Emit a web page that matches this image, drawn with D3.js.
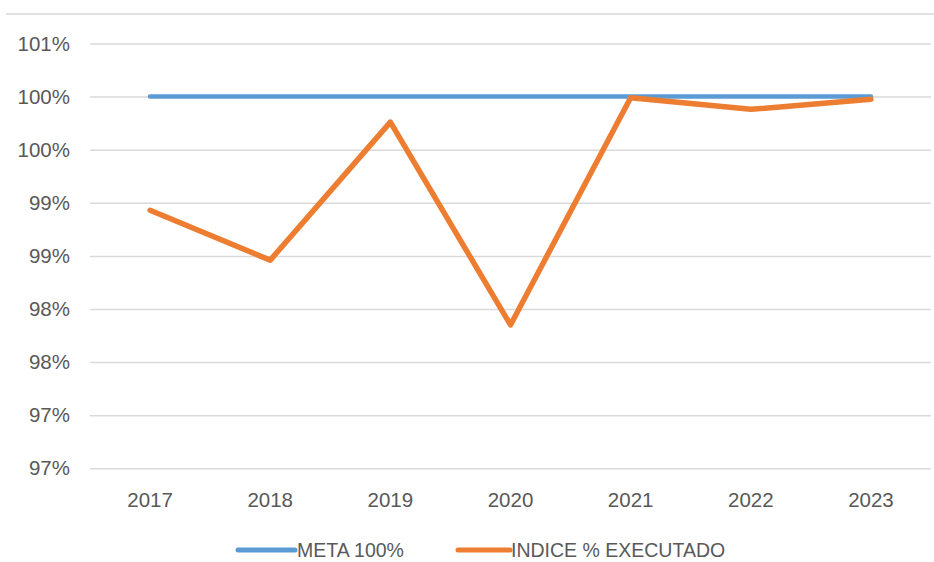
<!DOCTYPE html>
<html>
<head>
<meta charset="utf-8">
<script src="https://cdn.jsdelivr.net/npm/d3@7/dist/d3.min.js"></script>
<style>
  html, body { margin: 0; padding: 0; background: #fff; }
  svg { display: block; font-family: "Liberation Sans", Arial, sans-serif; }
</style>
</head>
<body>
<svg id="chart" width="934" height="562"></svg>
<script>
// Annual execution index against the 100% target
const years = ["2017", "2018", "2019", "2020", "2021", "2022", "2023"];
const metaValues = [100, 100, 100, 100, 100, 100, 100];
const indiceValues = [98.93, 98.46, 99.76, 97.85, 99.99, 99.88, 99.975];
const tickValues = [96.5, 97, 97.5, 98, 98.5, 99, 99.5, 100, 100.5];
const tickLabels = ["97%", "97%", "98%", "98%", "99%", "99%", "100%", "100%", "101%"];
const seriesNames = ["META 100%", "INDICE % EXECUTADO"];
const seriesColors = ["#5B9BD5", "#ED7D31"];

const svg = d3.select("#chart");
const plotLeft = 90, plotRight = 931, plotTop = 43.5, plotBottom = 468.3;

const x = d3.scaleBand().domain(years).range([plotLeft, plotRight]);
const y = d3.scaleLinear().domain([96.5, 100.5]).range([plotBottom, plotTop]);
const cx = d => x(d) + x.bandwidth() / 2;

// outer frame edge
svg.append("line")
  .attr("x1", 6).attr("x2", 934).attr("y1", 14).attr("y2", 14)
  .attr("stroke", "#d9d9d9").attr("stroke-width", 1.5);

// horizontal gridlines + value axis labels
const yAxis = d3.axisLeft(y)
  .tickValues(tickValues)
  .tickSize(-(plotRight - plotLeft))
  .tickPadding(20)
  .tickFormat((d, i) => tickLabels[i]);

const gy = svg.append("g").attr("transform", `translate(${plotLeft},0)`).call(yAxis);
gy.select(".domain").remove();
gy.selectAll(".tick line").attr("stroke", "#d9d9d9").attr("stroke-width", 1.5);
gy.selectAll(".tick text")
  .attr("fill", "#595959")
  .style("font-size", "20.5px");

// category axis
const xAxis = d3.axisBottom(x).tickSize(0).tickPadding(24);
const gx = svg.append("g").attr("transform", `translate(0,${plotBottom})`).call(xAxis);
gx.select(".domain").remove();
gx.selectAll(".tick text")
  .attr("fill", "#595959")
  .style("font-size", "20.5px");

// series lines
const line = d3.line().x((d, i) => cx(years[i])).y(d => y(d));
[metaValues, indiceValues].forEach((vals, k) => {
  svg.append("path")
    .datum(vals)
    .attr("d", line)
    .attr("fill", "none")
    .attr("stroke", seriesColors[k])
    .attr("stroke-width", k === 0 ? 4.5 : 5.5)
    .attr("stroke-linejoin", "round")
    .attr("stroke-linecap", "round");
});

// legend
const legendItems = [
  { x1: 238, x2: 295, tx: 297 },
  { x1: 458, x2: 510, tx: 511 }
];
legendItems.forEach((it, k) => {
  svg.append("line")
    .attr("x1", it.x1).attr("x2", it.x2)
    .attr("y1", 550).attr("y2", 550)
    .attr("stroke", seriesColors[k])
    .attr("stroke-width", 5)
    .attr("stroke-linecap", "round");
  svg.append("text")
    .attr("x", it.tx).attr("y", 557)
    .attr("fill", "#595959")
    .style("font-size", "19.5px")
    .text(seriesNames[k]);
});
</script>
</body>
</html>
